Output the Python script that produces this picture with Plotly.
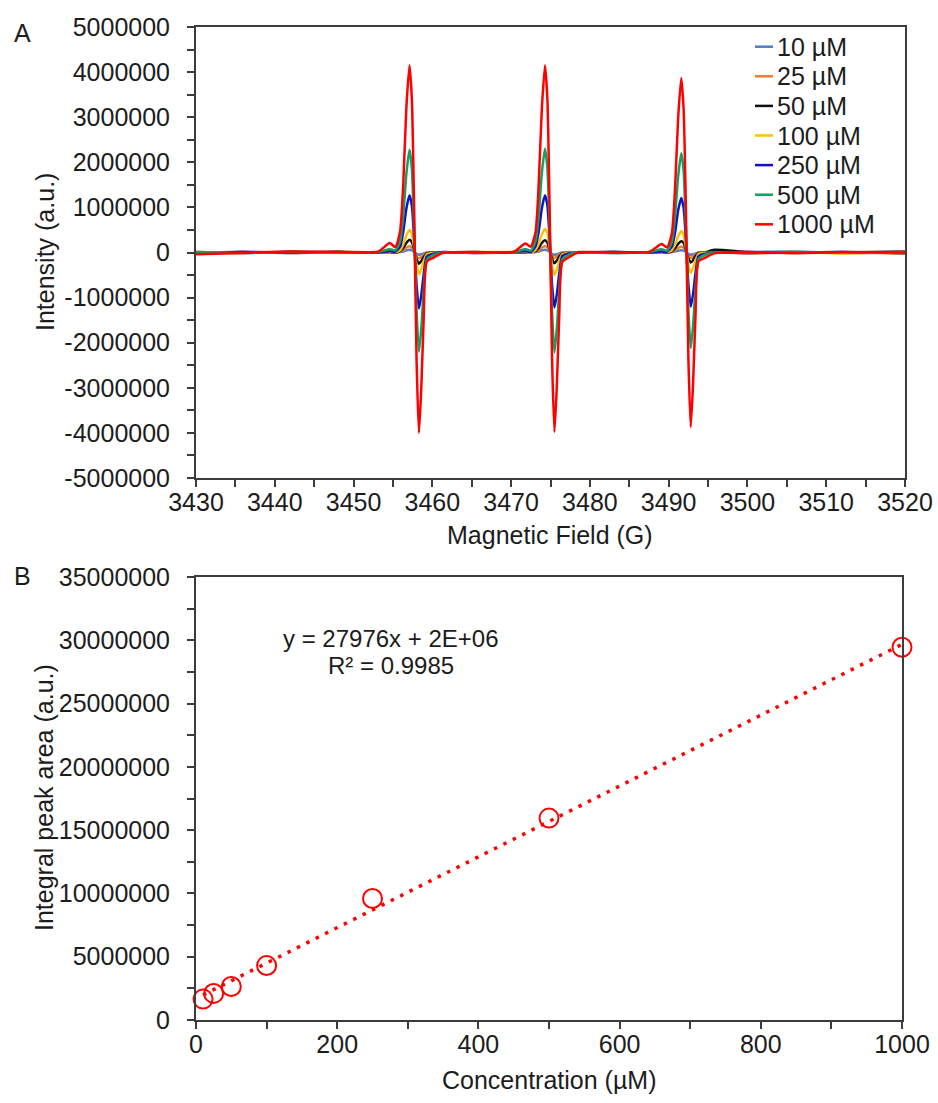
import plotly.graph_objects as go

# ---------------- Panel A: EPR spectra ----------------
# Magnetic field sweep shared by every spectrum (G)
field_G = [3430, 3436, 3442, 3448,
           3453.1, 3454.6, 3455.3, 3455.9, 3456.3, 3456.7, 3457.1, 3457.4,
           3457.7, 3458.0, 3458.3, 3458.6, 3458.9, 3459.3, 3460.1, 3461.3,
           3465.5,
           3470.3, 3471.8, 3472.5, 3473.1, 3473.5, 3473.9, 3474.3, 3474.6,
           3474.9, 3475.2, 3475.5, 3475.8, 3476.1, 3476.5, 3477.3, 3478.5,
           3483.0,
           3487.6, 3489.1, 3489.8, 3490.4, 3490.8, 3491.2, 3491.6, 3491.9,
           3492.2, 3492.5, 3492.8, 3493.1, 3493.4, 3493.8, 3494.6, 3495.8,
           3500, 3506, 3512, 3520]

# Intensities in millions of a.u., one list per concentration
int_10uM = [0.01, -0.01, 0.02, 0.00,
            0.00, 0.00, 0.00, 0.01, 0.02, 0.05, 0.06, 0.05, 0.01, -0.03, -0.05, -0.04, -0.02, 0.00, 0.00, 0.00,
            0.01,
            0.00, 0.01, 0.00, 0.01, 0.02, 0.05, 0.06, 0.05, 0.01, -0.03, -0.05, -0.04, -0.02, 0.00, 0.01, 0.00,
            -0.01,
            0.00, 0.00, 0.00, 0.01, 0.02, 0.04, 0.05, 0.04, 0.01, -0.03, -0.05, -0.04, -0.02, 0.00, 0.00, 0.00,
            0.01, 0.02, -0.01, 0.00]
int_25uM = [-0.01, 0.01, 0.00, 0.02,
            0.00, 0.00, 0.00, 0.02, 0.05, 0.11, 0.14, 0.11, 0.03, -0.08, -0.13, -0.10, -0.05, -0.01, 0.00, 0.00,
            -0.01,
            0.00, 0.01, 0.00, 0.02, 0.05, 0.11, 0.14, 0.12, 0.03, -0.07, -0.12, -0.09, -0.04, -0.01, 0.00, 0.00,
            0.01,
            0.00, 0.00, 0.00, 0.01, 0.05, 0.10, 0.13, 0.11, 0.03, -0.07, -0.12, -0.09, -0.04, -0.01, 0.00, 0.00,
            -0.02, 0.00, 0.01, -0.03]
int_50uM = [0.00, 0.01, -0.01, 0.01,
            0.00, 0.01, 0.00, 0.03, 0.10, 0.21, 0.28, 0.23, 0.06, -0.15, -0.25, -0.19, -0.10, -0.02, 0.00, 0.00,
            0.00,
            0.00, 0.00, 0.01, 0.03, 0.10, 0.21, 0.27, 0.22, 0.06, -0.14, -0.24, -0.18, -0.09, -0.02, -0.01, 0.00,
            0.01,
            0.00, 0.01, 0.00, 0.03, 0.09, 0.19, 0.25, 0.21, 0.05, -0.13, -0.22, -0.17, -0.08, -0.01, 0.00, 0.06,
            0.01, -0.01, 0.00, 0.02]
int_100uM = [0.01, 0.00, 0.01, -0.01,
             0.00, 0.01, 0.01, 0.05, 0.18, 0.38, 0.50, 0.41, 0.11, -0.28, -0.48, -0.37, -0.19, -0.04, -0.01, 0.00,
             0.01,
             0.01, 0.01, 0.00, 0.06, 0.19, 0.40, 0.52, 0.43, 0.11, -0.29, -0.50, -0.38, -0.19, -0.04, -0.01, 0.00,
             0.00,
             0.00, 0.01, 0.01, 0.05, 0.17, 0.36, 0.47, 0.39, 0.10, -0.27, -0.45, -0.35, -0.17, -0.03, -0.01, 0.00,
             0.00, 0.01, -0.02, 0.01]
int_250uM = [-0.02, 0.01, 0.00, 0.01,
             0.00, 0.03, 0.02, 0.13, 0.45, 0.97, 1.27, 1.04, 0.27, -0.73, -1.24, -0.95, -0.49, -0.09, -0.03, 0.01,
             -0.01,
             0.01, 0.03, 0.01, 0.14, 0.46, 0.98, 1.27, 1.05, 0.28, -0.72, -1.22, -0.94, -0.48, -0.08, -0.02, 0.00,
             0.01,
             0.00, 0.02, 0.02, 0.13, 0.43, 0.93, 1.21, 0.99, 0.26, -0.70, -1.20, -0.92, -0.47, -0.08, -0.03, 0.00,
             -0.01, 0.00, 0.01, -0.01]
int_500uM = [0.01, -0.01, 0.01, 0.00,
             0.01, 0.07, 0.05, 0.24, 0.80, 1.74, 2.28, 1.86, 0.48, -1.30, -2.20, -1.68, -0.86, -0.16, -0.06, 0.00,
             0.00,
             0.00, 0.08, 0.04, 0.25, 0.82, 1.76, 2.30, 1.88, 0.50, -1.32, -2.22, -1.70, -0.88, -0.15, -0.05, 0.01,
             -0.01,
             0.01, 0.07, 0.04, 0.23, 0.78, 1.68, 2.20, 1.80, 0.47, -1.26, -2.12, -1.62, -0.83, -0.14, -0.05, 0.00,
             0.00, 0.01, 0.00, -0.01]
int_1000uM = [-0.04, -0.01, 0.02, 0.01,
              0.02, 0.21, 0.12, 0.46, 1.49, 3.20, 4.15, 3.40, 0.91, -2.40, -4.00, -3.00, -1.48, -0.20, -0.12, -0.01,
              0.01,
              0.01, 0.20, 0.13, 0.45, 1.50, 3.18, 4.15, 3.42, 0.88, -2.38, -3.98, -2.98, -1.46, -0.21, -0.11, 0.00,
              0.00,
              0.02, 0.19, 0.11, 0.42, 1.38, 2.97, 3.87, 3.17, 0.85, -2.32, -3.87, -2.90, -1.43, -0.19, -0.12, -0.02,
              0.01, -0.01, 0.01, 0.00]

series_names = ["10 µM", "25 µM", "50 µM", "100 µM", "250 µM", "500 µM", "1000 µM"]
series_values = [int_10uM, int_25uM, int_50uM, int_100uM, int_250uM, int_500uM, int_1000uM]
series_colors = ["#4f7fc8", "#ed7d31", "#111111", "#ffc000", "#1010c8", "#14a060", "#ff0000"]
MILLION = 1e6

field_ticks = [3430, 3440, 3450, 3460, 3470, 3480, 3490, 3500, 3510, 3520]
intensity_ticks = [-5000000, -4000000, -3000000, -2000000, -1000000, 0,
                   1000000, 2000000, 3000000, 4000000, 5000000]

# ---------------- Panel B: calibration ----------------
conc_uM = [10, 25, 50, 100, 250, 500, 1000]
peak_area = [1.65e6, 2.1e6, 2.65e6, 4.3e6, 9.6e6, 15.95e6, 29.45e6]
trend_slope = 27976
trend_intercept = 1.7e6
r_squared = 0.9985

conc_ticks = [0, 200, 400, 600, 800, 1000]
area_ticks = [0, 5000000, 10000000, 15000000, 20000000, 25000000, 30000000, 35000000]

# ---------------- Styling ----------------
W, H = 938, 1103
FONT = "Liberation Sans, Arial, sans-serif"
TXT = "#1c1c1c"
AXC = "#3c3c3c"
FS = 25


def px(x):
    return x / W


def py(y):
    return 1 - y / H


fig = go.Figure()

for name, vals, color in zip(series_names, series_values, series_colors):
    fig.add_trace(go.Scatter(
        x=field_G, y=[v * MILLION for v in vals], mode="lines", name=name,
        line=dict(color=color, width=2.5, shape="spline", smoothing=0.6),
        showlegend=False, xaxis="x", yaxis="y"))

trend_x = [min(conc_uM), max(conc_uM)]
trend_y = [trend_slope * c + trend_intercept for c in trend_x]
fig.add_trace(go.Scatter(
    x=trend_x, y=trend_y, mode="lines", showlegend=False,
    line=dict(color="#ff0000", width=3.5, dash="3.5px,7px"),
    xaxis="x2", yaxis="y2"))
fig.add_trace(go.Scatter(
    x=conc_uM, y=peak_area, mode="markers", showlegend=False, cliponaxis=False,
    marker=dict(symbol="circle-open", size=19, color="#ff0000",
                line=dict(color="#ff0000", width=2)),
    xaxis="x2", yaxis="y2"))


def axis_style(**kw):
    d = dict(showline=True, linecolor=AXC, linewidth=2, mirror=True,
             ticks="outside", ticklen=7, tickwidth=1.5, tickcolor=AXC,
             showgrid=False, zeroline=False, automargin=False,
             tickfont=dict(family=FONT, size=FS, color=TXT))
    d.update(kw)
    return d


def minor_ticks(start, step):
    return dict(ticks="outside", ticklen=7, tickwidth=1.5, tickcolor=AXC,
                tickmode="linear", tick0=start, dtick=step)


fig.update_layout(
    width=W, height=H, autosize=False, showlegend=False,
    margin=dict(l=0, r=0, t=0, b=0, pad=0, autoexpand=False),
    paper_bgcolor="white", plot_bgcolor="white",
    font=dict(family=FONT, size=FS, color=TXT),
    xaxis=axis_style(domain=[px(196), px(905)], anchor="y", range=[3430, 3520],
                     tickmode="array", tickvals=field_ticks,
                     ticktext=[str(t) for t in field_ticks],
                     ticklabelstandoff=-6, minor=minor_ticks(3430, 5)),
    yaxis=axis_style(domain=[py(478), py(27)], anchor="x", range=[-5e6, 5e6],
                     tickmode="array", tickvals=intensity_ticks,
                     ticktext=[str(t) for t in intensity_ticks],
                     ticklabelstandoff=12, minor=minor_ticks(0, 5e5)),
    xaxis2=axis_style(domain=[px(196), px(902)], anchor="y2", range=[0, 1000],
                      tickmode="array", tickvals=conc_ticks,
                      ticktext=[str(t) for t in conc_ticks],
                      ticklabelstandoff=-6, minor=minor_ticks(0, 100)),
    yaxis2=axis_style(domain=[py(1020), py(577)], anchor="x2", range=[0, 35e6],
                      tickmode="array", tickvals=area_ticks,
                      ticktext=[str(t) for t in area_ticks],
                      ticklabelstandoff=12, minor=minor_ticks(0, 2.5e6)),
)

annotations = []
shapes = []


def text(x, y, s, angle=0, anchor="center", size=FS):
    annotations.append(dict(
        x=px(x), y=py(y), xref="paper", yref="paper", text=s, showarrow=False,
        xanchor=anchor, yanchor="middle", textangle=angle,
        font=dict(family=FONT, size=size, color=TXT)))


# panel letters and axis titles
text(22, 33, "A")
text(22, 576, "B")
text(45, 252, "Intensity (a.u.)", angle=-90)
text(550, 535, "Magnetic Field (G)")
text(44, 798, "Integral peak area (a.u.)", angle=-90)
text(549, 1080, "Concentration (µM)")

# trendline equation
text(391, 638, f"y = {trend_slope}x + {trend_intercept:.0E}", size=24)
text(391, 665, f"R² = {r_squared}", size=24)

# series key
for i, (name, color) in enumerate(zip(series_names, series_colors)):
    yy = 46.7 + i * 29.6
    shapes.append(dict(type="line", xref="paper", yref="paper",
                       x0=px(755), x1=px(773), y0=py(yy), y1=py(yy),
                       line=dict(color=color, width=2.5)))
    annotations.append(dict(
        x=px(775), y=py(yy), xref="paper", yref="paper", text=name,
        showarrow=False, xanchor="left", yanchor="middle",
        font=dict(family=FONT, size=FS, color=TXT)))

fig.update_layout(annotations=annotations, shapes=shapes)

fig.write_html("out.html")
